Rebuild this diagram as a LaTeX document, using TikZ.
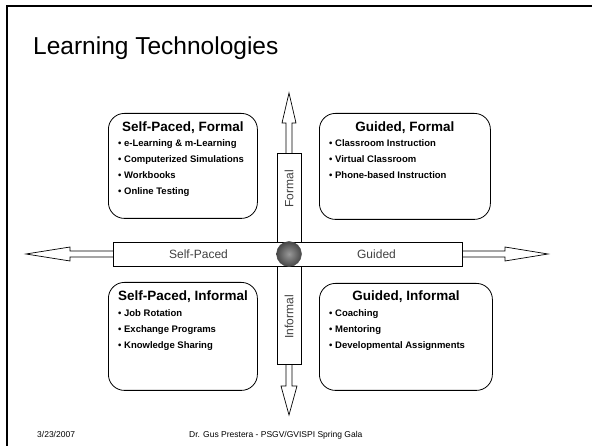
\documentclass[tikz,border=0pt]{standalone}
\usepackage{fontspec}
\setmainfont{Liberation Sans}
\usetikzlibrary{positioning}

\tikzset{
  quad/.style={draw, rounded corners=16pt, line width=0.8pt, inner sep=0pt, anchor=north west},
  quadhead/.style={font=\bfseries\fontsize{13.5}{16}\selectfont, inner sep=0pt, anchor=base},
  quaditem/.style={font=\bfseries\fontsize{9.5}{11}\selectfont, inner sep=0pt, anchor=base west},
  axislabel/.style={font=\fontsize{12}{14}\selectfont, text=black!75, inner sep=0pt},
  arm/.style={draw, fill=white, line width=0.7pt},
  footer/.style={font=\fontsize{8.5}{10}\selectfont, inner sep=0pt, anchor=base west},
}

\begin{document}
\begin{tikzpicture}[x=1pt, y=-1pt]
  \useasboundingbox (0,0) rectangle (592,446);
  % slide frame and heading
  \draw[line width=2pt] (7,446) -- (7,6.5) -- (592,6.5);
  \node[anchor=base west, inner sep=0pt, font=\fontsize{24.5}{28}\selectfont] (title) at (33,55) {Learning Technologies};

  % the cross with its four arrows
  \draw[arm] (113,251) -- (70,251) -- (70,247) -- (26,254) -- (70,261) -- (70,257) -- (113,257);
  \draw[arm] (462,251) -- (505,251) -- (505,247) -- (548,254) -- (505,261) -- (505,257) -- (462,257);
  \draw[arm] (286,153) -- (286,123) -- (282,123) -- (289,93) -- (296,123) -- (292,123) -- (292,153);
  \draw[arm] (286,364) -- (286,386) -- (281,386) -- (289,415) -- (297,386) -- (292,386) -- (292,364);
  \draw[arm] (113,242) rectangle (462,266);
  \draw[arm] (277,153) rectangle (301,242);
  \draw[arm] (277,266) rectangle (301,364);

  \node[axislabel] (selfp) at (198.5,254) {Self-Paced};
  \node[axislabel] (guid) at (376.5,254) {Guided};
  \node[axislabel, rotate=90] (form) at (289,189) {Formal};
  \node[axislabel, rotate=90] (inform) at (289,317) {Informal};
  \node[circle, inner sep=0pt, minimum size=25pt, draw=black!70, line width=0.4pt,
        inner color=black!40, outer color=black!72] (hub) at (289,254) {};

  % Self-Paced, Formal
  \node[quad, minimum width=149pt, minimum height=105pt] (sf) at (108,113) {};
  \node[below=19pt of sf.north, quadhead] (sfh) {Self-Paced, Formal};
  \node[below right=33.4pt and 10pt of sf.north west, quaditem] (sf1) {• e-Learning \& m-Learning};
  \node[below=16pt of sf1.base west, quaditem] (sf2) {• Computerized Simulations};
  \node[below=16pt of sf2.base west, quaditem] (sf3) {• Workbooks};
  \node[below=16pt of sf3.base west, quaditem] (sf4) {• Online Testing};

  % Guided, Formal
  \node[quad, minimum width=171pt, minimum height=106pt] (gf) at (319,113) {};
  \node[below=19pt of gf.north, quadhead] (gfh) {Guided, Formal};
  \node[below right=33.4pt and 10pt of gf.north west, quaditem] (gf1) {• Classroom Instruction};
  \node[below=16pt of gf1.base west, quaditem] (gf2) {• Virtual Classroom};
  \node[below=16pt of gf2.base west, quaditem] (gf3) {• Phone-based Instruction};

  % Self-Paced, Informal
  \node[quad, minimum width=149pt, minimum height=108pt] (si) at (108,282) {};
  \node[below=19pt of si.north, quadhead] (sih) {Self-Paced, Informal};
  \node[below right=34.4pt and 10pt of si.north west, quaditem] (si1) {• Job Rotation};
  \node[below=16pt of si1.base west, quaditem] (si2) {• Exchange Programs};
  \node[below=16pt of si2.base west, quaditem] (si3) {• Knowledge Sharing};

  % Guided, Informal
  \node[quad, minimum width=173pt, minimum height=107pt] (gi) at (319,283) {};
  \node[below=18pt of gi.north, quadhead] (gih) {Guided, Informal};
  \node[below right=33.4pt and 10pt of gi.north west, quaditem] (gi1) {• Coaching};
  \node[below=16pt of gi1.base west, quaditem] (gi2) {• Mentoring};
  \node[below=16pt of gi2.base west, quaditem] (gi3) {• Developmental Assignments};

  % footer
  \node[footer] (date) at (37,437) {3/23/2007};
  \node[footer] (credit) at (189,437) {Dr. Gus Prestera - PSGV/GVISPI Spring Gala};
\end{tikzpicture}
\end{document}
